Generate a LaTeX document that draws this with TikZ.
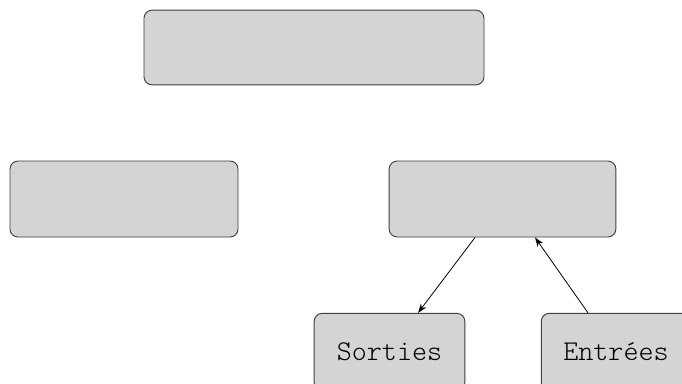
\documentclass[tikz,border=0pt]{standalone}
\usepackage{fontspec}
\setmonofont{Latin Modern Mono Light}
\usetikzlibrary{arrows.meta}
\begin{document}
\begin{tikzpicture}[x=0.75pt,y=-0.75pt,
  box/.style={draw=black!75,fill=black!17,rounded corners=6pt,line width=0.7pt,inner sep=0pt,font=\ttfamily\fontsize{21.5}{24}\selectfont},
  conn/.style={-{Stealth[length=7pt,width=5pt]},line width=0.6pt}]
\useasboundingbox (0,0) rectangle (682,383);
\clip (0,0) rectangle (682,383);
\fill[white] (0,0) rectangle (682,383);
\node[box,minimum width=255pt,minimum height=56pt] (top) at (314,47.5) {};
\node[box,minimum width=171pt,minimum height=57pt] (left) at (124,199) {};
\node[box,minimum width=170pt,minimum height=57pt] (mid) at (502.5,199) {};
\node[box,minimum width=113pt,minimum height=58pt] (sorties) at (389.5,352) {Sorties};
\node[box,minimum width=112pt,minimum height=58pt] (entrees) at (616,352) {Entrées};
\draw[conn] ([xshift=-20.6pt]mid.south) -- ([xshift=21.4pt]sorties.north);
\draw[conn] ([xshift=-21pt]entrees.north) -- ([xshift=24.4pt]mid.south);
\end{tikzpicture}
\end{document}
